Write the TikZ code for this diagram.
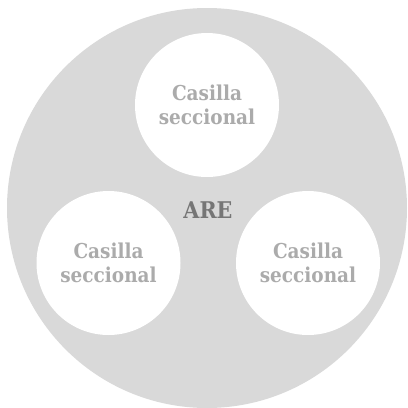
\documentclass[tikz,border=0pt]{standalone}
\usepackage{fontspec}
\setmainfont{DejaVu Serif}
\newfontfamily\labelfont{DejaVu Serif Condensed}[BoldFont={DejaVu Serif Condensed Bold}]
\definecolor{outerfill}{HTML}{D9D9D9}
\definecolor{innertext}{HTML}{ABABAB}
\definecolor{maintext}{HTML}{767676}
\tikzset{
  unit/.style={circle, fill=white, minimum size=144pt, inner sep=0pt,
    font=\labelfont\bfseries\fontsize{20.5}{24}\selectfont, text=innertext, align=center},
  hub/.style={font=\labelfont\bfseries\fontsize{23}{26}\selectfont, text=maintext}
}
\begin{document}
\begin{tikzpicture}[x=1pt,y=-1pt]
  \useasboundingbox (0,0) rectangle (408,408);
  \fill[outerfill] (207,208) circle[radius=200];
  \node[hub] (are) at (208,210) {ARE};
  \node[unit] (top) at (207,105) {Casilla\\seccional};
  \node[unit] (left) at (108.5,263) {Casilla\\seccional};
  \node[unit] (right) at (308,263) {Casilla\\seccional};
\end{tikzpicture}
\end{document}
